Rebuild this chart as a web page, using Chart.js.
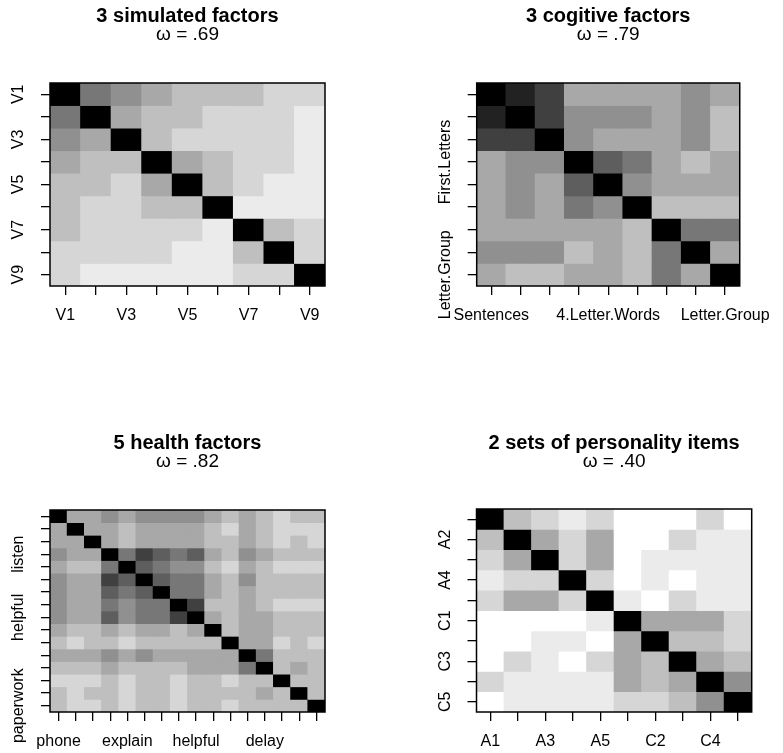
<!DOCTYPE html>
<html>
<head>
<meta charset="utf-8">
<script src="https://cdn.jsdelivr.net/npm/chart.js@4.4.0/dist/chart.umd.min.js"></script>
<style>
html,body{margin:0;padding:0;background:#fff;}
#wrap{position:relative;width:783px;height:753px;overflow:hidden;}
canvas{position:absolute;}
</style>
</head>
<body>
<div id="wrap">
<canvas id="c1" width="391" height="376" style="left:0px;top:0px;width:391px;height:376px"></canvas>
<canvas id="c2" width="392" height="376" style="left:391px;top:0px;width:392px;height:376px"></canvas>
<canvas id="c3" width="391" height="377" style="left:0px;top:376px;width:391px;height:377px"></canvas>
<canvas id="c4" width="392" height="377" style="left:391px;top:376px;width:392px;height:377px"></canvas>
</div>
<script>
// ---------- DATA ----------
// 3 simulated factors
const simTitle = '3 simulated factors';
const simOmega = 'ω = .69';
const simXTicks = ['V1','','V3','','V5','','V7','','V9'];
const simYTicks = ['V1','','V3','','V5','','V7','','V9'];
const simCor = [
  [1.00,0.56,0.48,0.40,0.35,0.29,0.30,0.25,0.20],
  [0.56,1.00,0.42,0.35,0.30,0.25,0.26,0.22,0.18],
  [0.48,0.42,1.00,0.30,0.26,0.22,0.23,0.19,0.15],
  [0.40,0.35,0.30,1.00,0.42,0.35,0.24,0.20,0.16],
  [0.35,0.30,0.26,0.42,1.00,0.30,0.20,0.17,0.13],
  [0.29,0.25,0.22,0.35,0.30,1.00,0.17,0.14,0.11],
  [0.30,0.26,0.23,0.24,0.20,0.17,1.00,0.30,0.24],
  [0.25,0.22,0.19,0.20,0.17,0.14,0.30,1.00,0.20],
  [0.20,0.18,0.15,0.16,0.13,0.11,0.24,0.20,1.00]
];

// 3 cognitive factors
const cogTitle = '3 cogitive factors';
const cogOmega = 'ω = .79';
const cogXTicks = ['Sentences','','','','4.Letter.Words','','','','Letter.Group'];
const cogYTicks = ['','','','First.Letters','','','','','Letter.Group'];
const cogCor = [
  [1.000,0.828,0.776,0.439,0.432,0.447,0.447,0.541,0.380],
  [0.828,1.000,0.779,0.493,0.464,0.489,0.432,0.537,0.358],
  [0.776,0.779,1.000,0.460,0.425,0.443,0.401,0.534,0.359],
  [0.439,0.493,0.460,1.000,0.674,0.590,0.381,0.350,0.424],
  [0.432,0.464,0.425,0.674,1.000,0.541,0.402,0.367,0.446],
  [0.447,0.489,0.443,0.590,0.541,1.000,0.288,0.320,0.325],
  [0.447,0.432,0.401,0.381,0.402,0.288,1.000,0.555,0.598],
  [0.541,0.537,0.534,0.350,0.367,0.320,0.555,1.000,0.452],
  [0.380,0.358,0.359,0.424,0.446,0.325,0.598,0.452,1.000]
];

// 5 health factors
const hltTitle = '5 health factors';
const hltOmega = 'ω = .82';
const hltXTicks = ['phone','','','','explain','','','','helpful','','','','delay','','',''];
const hltYTicks = ['','','','listen','','','','','helpful','','','','','','','paperwork'];
const hltCor = [
  [1.00,0.41,0.41,0.50,0.41,0.50,0.50,0.50,0.50,0.41,0.32,0.41,0.32,0.23,0.32,0.32],
  [0.41,1.00,0.41,0.41,0.32,0.41,0.41,0.41,0.41,0.32,0.23,0.41,0.32,0.23,0.23,0.23],
  [0.41,0.41,1.00,0.41,0.32,0.41,0.41,0.41,0.41,0.32,0.32,0.41,0.32,0.23,0.32,0.23],
  [0.50,0.41,0.41,1.00,0.59,0.77,0.68,0.59,0.68,0.41,0.32,0.50,0.41,0.32,0.32,0.32],
  [0.41,0.32,0.32,0.59,1.00,0.68,0.59,0.50,0.50,0.32,0.23,0.41,0.32,0.23,0.23,0.23],
  [0.50,0.41,0.41,0.77,0.68,1.00,0.68,0.59,0.59,0.41,0.32,0.50,0.32,0.32,0.32,0.32],
  [0.50,0.41,0.41,0.68,0.59,0.68,1.00,0.59,0.59,0.41,0.32,0.41,0.32,0.32,0.32,0.32],
  [0.50,0.41,0.41,0.59,0.50,0.59,0.59,1.00,0.77,0.32,0.32,0.41,0.32,0.23,0.23,0.23],
  [0.50,0.41,0.41,0.68,0.50,0.59,0.59,0.77,1.00,0.41,0.32,0.41,0.41,0.32,0.32,0.32],
  [0.41,0.32,0.32,0.41,0.32,0.41,0.41,0.32,0.41,1.00,0.32,0.41,0.41,0.32,0.32,0.32],
  [0.32,0.23,0.32,0.32,0.23,0.32,0.32,0.32,0.32,0.32,1.00,0.41,0.41,0.23,0.32,0.23],
  [0.41,0.41,0.41,0.50,0.41,0.50,0.41,0.41,0.41,0.41,0.41,1.00,0.59,0.32,0.32,0.32],
  [0.32,0.32,0.32,0.41,0.32,0.32,0.32,0.32,0.41,0.41,0.41,0.59,1.00,0.32,0.41,0.32],
  [0.23,0.23,0.23,0.32,0.23,0.32,0.32,0.23,0.32,0.32,0.23,0.32,0.32,1.00,0.32,0.32],
  [0.32,0.23,0.32,0.32,0.23,0.32,0.32,0.23,0.32,0.32,0.32,0.32,0.41,0.32,1.00,0.32],
  [0.32,0.23,0.23,0.32,0.23,0.32,0.32,0.23,0.32,0.32,0.23,0.32,0.32,0.32,0.32,1.00]
];

// 2 sets of personality items
const perTitle = '2 sets of personality items';
const perOmega = 'ω = .40';
const perXTicks = ['A1','','A3','','A5','','C2','','C4',''];
const perYTicks = ['','A2','','A4','','C1','','C3','','C5'];
const perCor = [
  [1.00,0.32,0.23,0.14,0.23,0.05,0.05,0.05,0.23,0.05],
  [0.32,1.00,0.41,0.23,0.41,0.05,0.05,0.23,0.14,0.14],
  [0.23,0.41,1.00,0.23,0.41,0.05,0.14,0.14,0.14,0.14],
  [0.14,0.23,0.23,1.00,0.23,0.05,0.14,0.05,0.14,0.14],
  [0.23,0.41,0.41,0.23,1.00,0.14,0.05,0.23,0.14,0.14],
  [0.05,0.05,0.05,0.05,0.14,1.00,0.41,0.41,0.41,0.23],
  [0.05,0.05,0.14,0.14,0.05,0.41,1.00,0.32,0.32,0.23],
  [0.05,0.23,0.14,0.05,0.23,0.41,0.32,1.00,0.41,0.32],
  [0.23,0.14,0.14,0.14,0.14,0.41,0.32,0.41,1.00,0.50],
  [0.05,0.14,0.14,0.14,0.14,0.23,0.23,0.32,0.50,1.00]
];

// gray ramp (white -> black), 11 steps
const grayRamp = ['#FFFFFF','#EBEBEB','#D6D6D6','#BFBFBF','#A8A8A8','#909090','#777777','#5E5E5E','#404040','#222222','#000000'];

// ---------- RENDERING ----------
const FAMILY = "'Liberation Sans', Arial, Helvetica, sans-serif";
const TICK_FONT = {family: FAMILY, size: 16};
const TICK_LEN = 9;

function shade(r) {
  const k = Math.min(grayRamp.length - 1, Math.floor(Math.abs(r) * grayRamp.length + 1e-9));
  return grayRamp[k];
}

const measureCtx = document.createElement('canvas').getContext('2d');
function widest(labels) {
  measureCtx.font = TICK_FONT.size + 'px ' + FAMILY;
  let w = 0;
  labels.forEach(l => { w = Math.max(w, measureCtx.measureText(l).width); });
  return w;
}

const boxPlugin = {
  id: 'plotBox',
  afterDatasetsDraw(chart) {
    const {ctx, chartArea: a} = chart;
    ctx.save();
    ctx.strokeStyle = '#000';
    ctx.lineWidth = 1.5;
    ctx.strokeRect(a.left, a.top, a.right - a.left, a.bottom - a.top);
    ctx.restore();
  }
};

function makePanel(id, cfg) {
  const m = cfg.cor;
  const n = m.length;
  const datasets = m.map((row, i) => ({
    data: row.map(() => [i + 0.5, i + 1.5]),
    backgroundColor: row.map(shade),
    borderWidth: 0,
    grouped: false,
    barPercentage: 1,
    categoryPercentage: 1,
    inflateAmount: 0.4
  }));
  const yPad = 31 - TICK_LEN - widest(cfg.yTicks) / 2;
  const gridOpts = {display: true, drawOnChartArea: false, drawTicks: true, tickLength: TICK_LEN, color: '#000', lineWidth: 1.3, offset: false};
  new Chart(document.getElementById(id), {
    type: 'bar',
    data: {labels: cfg.xTicks, datasets},
    plugins: [boxPlugin],
    options: {
      responsive: false,
      animation: false,
      devicePixelRatio: 1,
      events: [],
      layout: {padding: cfg.pad},
      plugins: {
        legend: {display: false},
        tooltip: {enabled: false},
        title: {
          display: true, text: cfg.title, fullSize: false, color: '#000',
          font: {family: FAMILY, size: 20, weight: 'bold', lineHeight: 1},
          padding: {top: cfg.titleTop, bottom: 0}
        },
        subtitle: {
          display: true, text: cfg.omega, fullSize: false, color: '#000',
          font: {family: FAMILY, size: 19, weight: 'normal', lineHeight: 1},
          padding: {top: cfg.subTop, bottom: cfg.subBottom}
        }
      },
      scales: {
        x: {
          type: 'category',
          offset: true,
          grid: gridOpts,
          border: {display: false},
          ticks: {autoSkip: false, minRotation: 0, maxRotation: 0, color: '#000', font: TICK_FONT, padding: 11},
          afterFit(s) { s.height = 40; }
        },
        y: {
          type: 'linear',
          min: 0.5,
          max: n + 0.5,
          reverse: true,
          afterBuildTicks(s) { s.ticks = cfg.yTicks.map((_, i) => ({value: i + 1})); },
          grid: gridOpts,
          border: {display: false},
          ticks: {
            autoSkip: false, minRotation: 90, maxRotation: 90, crossAlign: 'center',
            padding: yPad, color: '#000', font: TICK_FONT,
            callback: (v) => cfg.yTicks[Math.round(v) - 1] || ''
          },
          afterFit(s) { s.width = 50; }
        }
      }
    }
  });
}

makePanel('c1', {cor: simCor, xTicks: simXTicks, yTicks: simYTicks, title: simTitle, omega: simOmega,
  pad: {left: 0, right: 66, top: 0, bottom: 50}, titleTop: 6.5, subTop: -1, subBottom: 38.5});
makePanel('c2', {cor: cogCor, xTicks: cogXTicks, yTicks: cogYTicks, title: cogTitle, omega: cogOmega,
  pad: {left: 35.7, right: 31.3, top: 0, bottom: 50}, titleTop: 6.5, subTop: -1, subBottom: 38.5});
makePanel('c3', {cor: hltCor, xTicks: hltXTicks, yTicks: hltYTicks, title: hltTitle, omega: hltOmega,
  pad: {left: 0, right: 66, top: 0, bottom: 1}, titleTop: 57.5, subTop: -1.5, subBottom: 39});
makePanel('c4', {cor: perCor, xTicks: perXTicks, yTicks: perYTicks, title: perTitle, omega: perOmega,
  pad: {left: 35.5, right: 31.3, top: 0, bottom: 1}, titleTop: 57.5, subTop: -1.5, subBottom: 38});
</script>
</body>
</html>
